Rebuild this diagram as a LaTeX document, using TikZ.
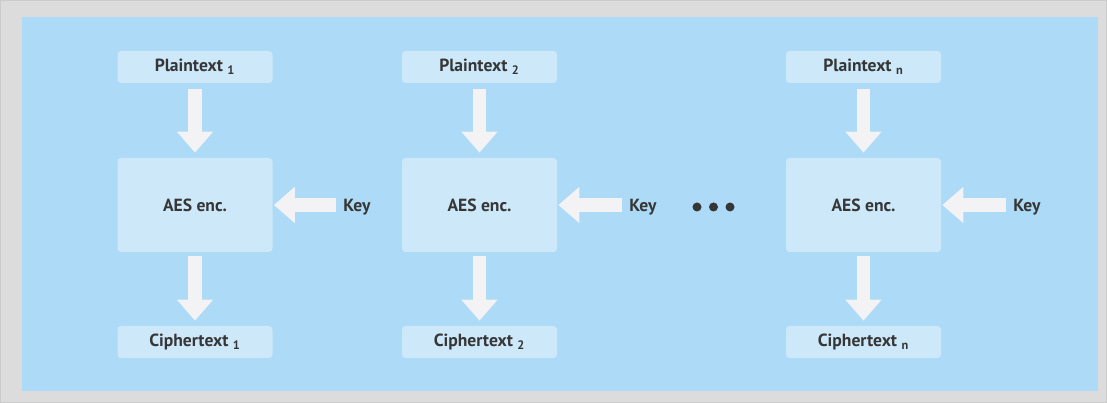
\documentclass[tikz,border=0pt]{standalone}
\usepackage{fontspec}
\setmainfont{PT Sans}
\usetikzlibrary{arrows.meta}
\definecolor{frame}{HTML}{DCDCDC}
\definecolor{sky}{HTML}{ADDAF6}
\definecolor{pale}{HTML}{CDE8F9}
\definecolor{whiteish}{HTML}{F3F3F5}
\definecolor{ink}{HTML}{363636}
\tikzset{
  databox/.style={fill=pale,rounded corners=2pt,minimum width=3.1cm,minimum height=0.64cm,font=\bfseries\fontsize{10}{12}\selectfont,text=ink},
  encbox/.style={databox,minimum height=1.88cm},
  keylabel/.style={font=\bfseries\fontsize{10}{12}\selectfont,text=ink,inner sep=0.06cm,anchor=west},
  fatarrow/.style={draw=whiteish,line width=0.27cm,-{Triangle[length=0.42cm,width=0.7cm]}}
}
\begin{document}
\begin{tikzpicture}
    \fill [frame] (0,0) rectangle (22.14,8.06);
    \draw [black!20] (0.01,0.01) rectangle (22.13,8.05);
    \fill [sky] (0.44,0.24) rectangle (21.96,7.72);

    \node[databox] (p1) at (3.9,6.72) {Plaintext \textsubscript{1}};
    \node[encbox] (aes1) at (3.9,3.96) {AES enc.};
    \node[databox] (c1) at (3.9,1.22) {Ciphertext \textsubscript{1}};
    \node[keylabel] (key1) at (6.8,3.91) {Key};

    \node[databox] (p2) at (9.59,6.72) {Plaintext \textsubscript{2}};
    \node[encbox] (aes2) at (9.59,3.96) {AES enc.};
    \node[databox] (c2) at (9.59,1.22) {Ciphertext \textsubscript{2}};
    \node[keylabel] (key2) at (12.52,3.91) {Key};

    \node[databox] (pn) at (17.27,6.72) {Plaintext \textsubscript{n}};
    \node[encbox] (aesn) at (17.27,3.96) {AES enc.};
    \node[databox] (cn) at (17.27,1.22) {Ciphertext \textsubscript{n}};
    \node[keylabel] (keyn) at (20.2,3.91) {Key};

    \draw[fatarrow,shorten <=0.12cm,shorten >=0.1cm] (p1) -- (aes1);
    \draw[fatarrow,shorten <=0.08cm,shorten >=0.1cm] (aes1) -- (c1);
    \draw[fatarrow,shorten <=0.08cm,shorten >=0.02cm] (key1.west |- aes1.east) -- (aes1.east);

    \draw[fatarrow,shorten <=0.12cm,shorten >=0.1cm] (p2) -- (aes2);
    \draw[fatarrow,shorten <=0.08cm,shorten >=0.1cm] (aes2) -- (c2);
    \draw[fatarrow,shorten <=0.08cm,shorten >=0.02cm] (key2.west |- aes2.east) -- (aes2.east);

    \draw[fatarrow,shorten <=0.12cm,shorten >=0.1cm] (pn) -- (aesn);
    \draw[fatarrow,shorten <=0.08cm,shorten >=0.1cm] (aesn) -- (cn);
    \draw[fatarrow,shorten <=0.08cm,shorten >=0.02cm] (keyn.west |- aesn.east) -- (aesn.east);

    \fill [ink] (13.94,3.92) circle (0.09) (14.27,3.92) circle (0.09) (14.6,3.92) circle (0.09);
\end{tikzpicture}
\end{document}
